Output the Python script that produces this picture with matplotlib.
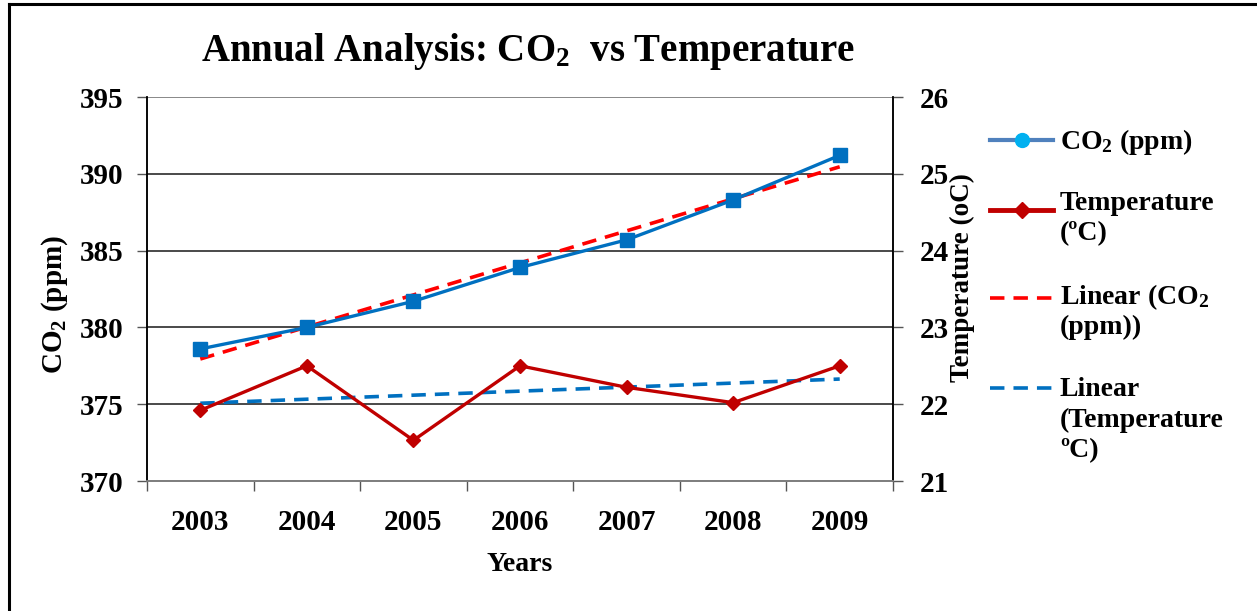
import matplotlib
matplotlib.use("Agg")
import matplotlib.pyplot as plt
import numpy as np
from matplotlib.lines import Line2D

plt.rcParams["font.family"] = ["Liberation Serif", "DejaVu Serif"]
plt.rcParams["font.weight"] = "bold"
plt.rcParams["mathtext.fontset"] = "custom"
plt.rcParams["mathtext.rm"] = "Liberation Serif:bold"
plt.rcParams["mathtext.it"] = "Liberation Serif:bold"
plt.rcParams["mathtext.bf"] = "Liberation Serif:bold"

# Data
years = ["2003", "2004", "2005", "2006", "2007", "2008", "2009"]
co2_ppm = [378.6, 380.0, 381.7, 383.9, 385.7, 388.3, 391.2]
temperature_c = [21.92, 22.5, 21.53, 22.5, 22.22, 22.02, 22.5]
co2_ticks = [370, 375, 380, 385, 390, 395]
temp_ticks = [21, 22, 23, 24, 25, 26]

W, H = 1257, 611
fig = plt.figure(figsize=(W / 100, H / 100), dpi=100)
fig.patch.set_facecolor("white")

# outer frame (top and left edges)
fig.add_artist(Line2D([9 / W, 9 / W], [0, 1 - 4 / H], color="black", lw=2.2,
                      transform=fig.transFigure))
fig.add_artist(Line2D([9 / W, 1], [1 - 4 / H, 1 - 4 / H], color="black", lw=2.2,
                      transform=fig.transFigure))

left, right, top, bottom = 147, 893, 97, 481
ax = fig.add_axes([left / W, 1 - bottom / H, (right - left) / W, (bottom - top) / H])
ax2 = ax.twinx()

x = np.arange(len(years))
blue = "#0070C0"
dred = "#C00000"

ax.set_xlim(-0.5, len(years) - 0.5)
ax.set_ylim(370, 395)
ax2.set_ylim(21, 26)

# gridlines
for v in co2_ticks:
    ax.axhline(v, color="#7f7f7f" if v in (370, 395) else "#3a3a3a", lw=1.3, zorder=0)

# trend lines
ck = np.polyfit(x, co2_ppm, 1)
tk = np.polyfit(x, temperature_c, 1)
ax.plot(x, np.polyval(ck, x), color="#FF0000", lw=2.6, ls=(0, (4, 2.5)), zorder=3)
ax2.plot(x, np.polyval(tk, x), color=blue, lw=2.6, ls=(0, (4, 2.5)), zorder=3)

ax.plot(x, co2_ppm, color=blue, lw=2.4, marker="s", ms=10, zorder=4)
ax2.plot(x, temperature_c, color=dred, lw=2.4, marker="D", ms=7.5, zorder=4)

# axes styling
for a in (ax, ax2):
    a.spines["top"].set_visible(False)
    a.spines["left"].set_color("black")
    a.spines["right"].set_color("black")
    a.spines["bottom"].set_color("#7f7f7f")
    a.spines["left"].set_linewidth(1.1)
    a.spines["right"].set_linewidth(1.1)
    a.spines["bottom"].set_linewidth(1.3)

ax.set_yticks(co2_ticks)
ax.set_yticklabels([str(t) for t in co2_ticks], fontsize=21, fontweight="bold")
ax2.set_yticks(temp_ticks)
ax2.set_yticklabels([str(t) for t in temp_ticks], fontsize=21, fontweight="bold")
ax.tick_params(axis="y", direction="out", length=7, width=1, pad=10, color="#555555")
ax2.tick_params(axis="y", direction="out", length=7, width=1, pad=12, color="#555555")

ax.set_xticks(np.arange(-0.5, len(years)), minor=False)
ax.set_xticklabels([])
ax.set_xticks(x, minor=True)
ax.set_xticklabels(years, minor=True, fontsize=21, fontweight="bold")
ax.tick_params(axis="x", which="major", direction="out", length=7, width=1, color="#555555")
ax.tick_params(axis="x", which="minor", length=0, pad=20)

ax.set_xlabel("Years", fontsize=20, fontweight="bold", labelpad=12)
fig.text(55 / W, 1 - 305 / H, "CO$_2$ (ppm)", rotation=90, ha="center", va="center",
         fontsize=21, fontweight="bold")
fig.text(962 / W, 1 - 278 / H, "Temperature (oC)", rotation=90, ha="center", va="center",
         fontsize=19.5, fontweight="bold")

fig.text(528 / W, 1 - 52 / H, "Annual Analysis: CO$_2$  vs Temperature", ha="center",
         va="center", fontsize=28, fontweight="bold")

# legend drawn in figure pixels
def px(xp, yp):
    return xp / W, 1 - yp / H

hx0, hx1, tx = 990, 1053, 1060
entries = [
    (140, dict(color="#4F81BD", lw=3), dict(marker="o", ms=10, mfc="#00B0F0", mec="#00B0F0"),
     ["CO$_2$ (ppm)"], 142),
    (210, dict(color=dred, lw=3.5), dict(marker="D", ms=8, mfc=dred, mec=dred),
     ["Temperature", "(ºC)"], 203),
    (298, dict(color="#FF0000", lw=2.6, ls=(0, (4, 2.5))), None,
     ["Linear (CO$_2$", "(ppm))"], 297),
    (388, dict(color=blue, lw=2.6, ls=(0, (4, 2.5))), None,
     ["Linear", "(Temperature", "ºC)"], 390),
]
for hy, lkw, mkw, lines, ty in entries:
    (a0, b0), (a1, b1) = px(hx0, hy), px(hx1, hy)
    fig.add_artist(Line2D([a0, a1], [b0, b1], transform=fig.transFigure, **lkw))
    if mkw:
        mx, my = px((hx0 + hx1) / 2, hy)
        fig.add_artist(Line2D([mx], [my], transform=fig.transFigure, ls="none", **mkw))
    for i, t in enumerate(lines):
        fx, fy = px(tx, ty + 30.5 * i)
        fig.text(fx, fy, t, ha="left", va="center", fontsize=20, fontweight="bold")

fig.savefig("out.png", dpi=100, facecolor="white")
